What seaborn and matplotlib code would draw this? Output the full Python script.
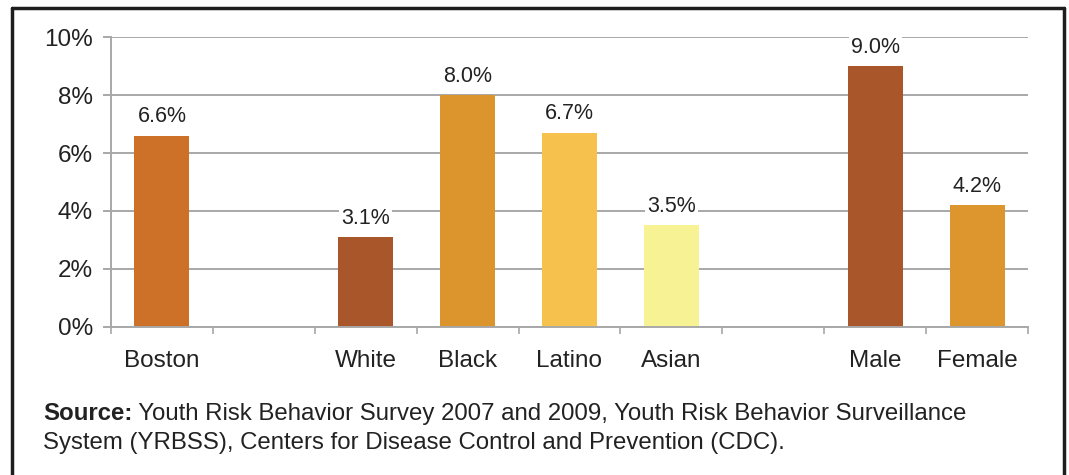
import matplotlib
matplotlib.use("Agg")
import matplotlib.pyplot as plt
from matplotlib.lines import Line2D
import numpy as np
import pandas as pd
import seaborn as sns

# Share of students reporting the behaviour, by group
groups = ["Boston", "White", "Black", "Latino", "Asian", "Male", "Female"]
rates = [6.6, 3.1, 8.0, 6.7, 3.5, 9.0, 4.2]
bar_colors = ["#CD7129", "#A9562A", "#DC952C", "#F6C24D", "#F7F293", "#A9562A", "#DC962D"]

# Category slots along the axis; blank slots separate the groupings
slot_order = ["Boston", "gap1", "White", "Black", "Latino", "Asian", "gap2", "Male", "Female"]
slot_labels = ["Boston", "", "White", "Black", "Latino", "Asian", "", "Male", "Female"]

y_ticks = [0, 2, 4, 6, 8, 10]
source_bold = "Source:"
source_lines = [" Youth Risk Behavior Survey 2007 and 2009, Youth Risk Behavior Surveillance",
                "System (YRBSS), Centers for Disease Control and Prevention (CDC)."]

df = pd.DataFrame({"group": groups, "rate": rates})

sns.set_theme(style="white")
plt.rcParams["font.family"] = ["Liberation Sans", "DejaVu Sans"]

W, H = 1069, 475
fig = plt.figure(figsize=(W / 100, H / 100), dpi=100)
ax = fig.add_axes([111 / W, 1 - 326.7 / H, (1028 - 111) / W, (326.7 - 37.3) / H])

sns.barplot(data=df, x="group", y="rate", hue="group", order=slot_order,
            palette=dict(zip(groups, bar_colors)), width=0.54, legend=False,
            saturation=1, linewidth=0, ax=ax)

ax.set_xlim(-0.5, len(slot_order) - 0.5)
ax.set_ylim(0, 10)
ax.set_yticks(y_ticks)
ax.set_yticklabels([f"{t}%" for t in y_ticks], fontsize=17.5, color="#222222")
ax.yaxis.grid(True, color="#A8A8A8", linewidth=1.4)
ax.set_axisbelow(True)
ax.tick_params(axis="y", length=6, width=1.4, color="#A8A8A8", pad=7, left=True)

ax.set_xticks(range(len(slot_order)))
ax.set_xticklabels(slot_labels, fontsize=17.5, color="#222222")
ax.tick_params(axis="x", length=0, pad=17)
ax.set_xticks(np.arange(-0.5, len(slot_order) + 0.5, 1), minor=True)
ax.tick_params(axis="x", which="minor", length=5, width=1.2, color="#A8A8A8", bottom=True)
ax.set_xlabel("")
ax.set_ylabel("")

for side in ["top", "right"]:
    ax.spines[side].set_visible(False)
for side in ["left", "bottom"]:
    ax.spines[side].set_color("#A8A8A8")
    ax.spines[side].set_linewidth(1.4)

# Value labels above the bars
for container in ax.containers:
    vals = container.datavalues
    ax.bar_label(container, labels=["" if np.isnan(v) else f"{v:.1f}%" for v in vals],
                 padding=6, fontsize=15.5, color="#222222",
                 bbox=dict(facecolor="white", edgecolor="none", pad=1.5))

# Source note: bold lead-in followed by regular text
renderer = fig.canvas.get_renderer()
lead = fig.text(43 / W, 1 - 414 / H, source_bold, fontsize=17.3, fontweight="bold",
                color="#222222", va="center", ha="left")
lead_box = lead.get_window_extent(renderer=renderer)
fig.text(lead_box.x1 / W, 1 - 414 / H, source_lines[0], fontsize=17.3, color="#222222",
         va="center", ha="left")
fig.text(43 / W, 1 - 443 / H, source_lines[1], fontsize=17.3, color="#222222",
         va="center", ha="left")

# Frame around the figure
frame_kw = dict(color="#1E1E1E", linewidth=2.5, transform=fig.transFigure)
fig.add_artist(Line2D([12 / W, 12 / W], [0, 1 - 8 / H], **frame_kw))
fig.add_artist(Line2D([1064 / W, 1064 / W], [0, 1 - 8 / H], **frame_kw))
fig.add_artist(Line2D([12 / W, 1064 / W], [1 - 8 / H, 1 - 8 / H], **frame_kw))

fig.savefig("out.png", dpi=100, facecolor="white")
